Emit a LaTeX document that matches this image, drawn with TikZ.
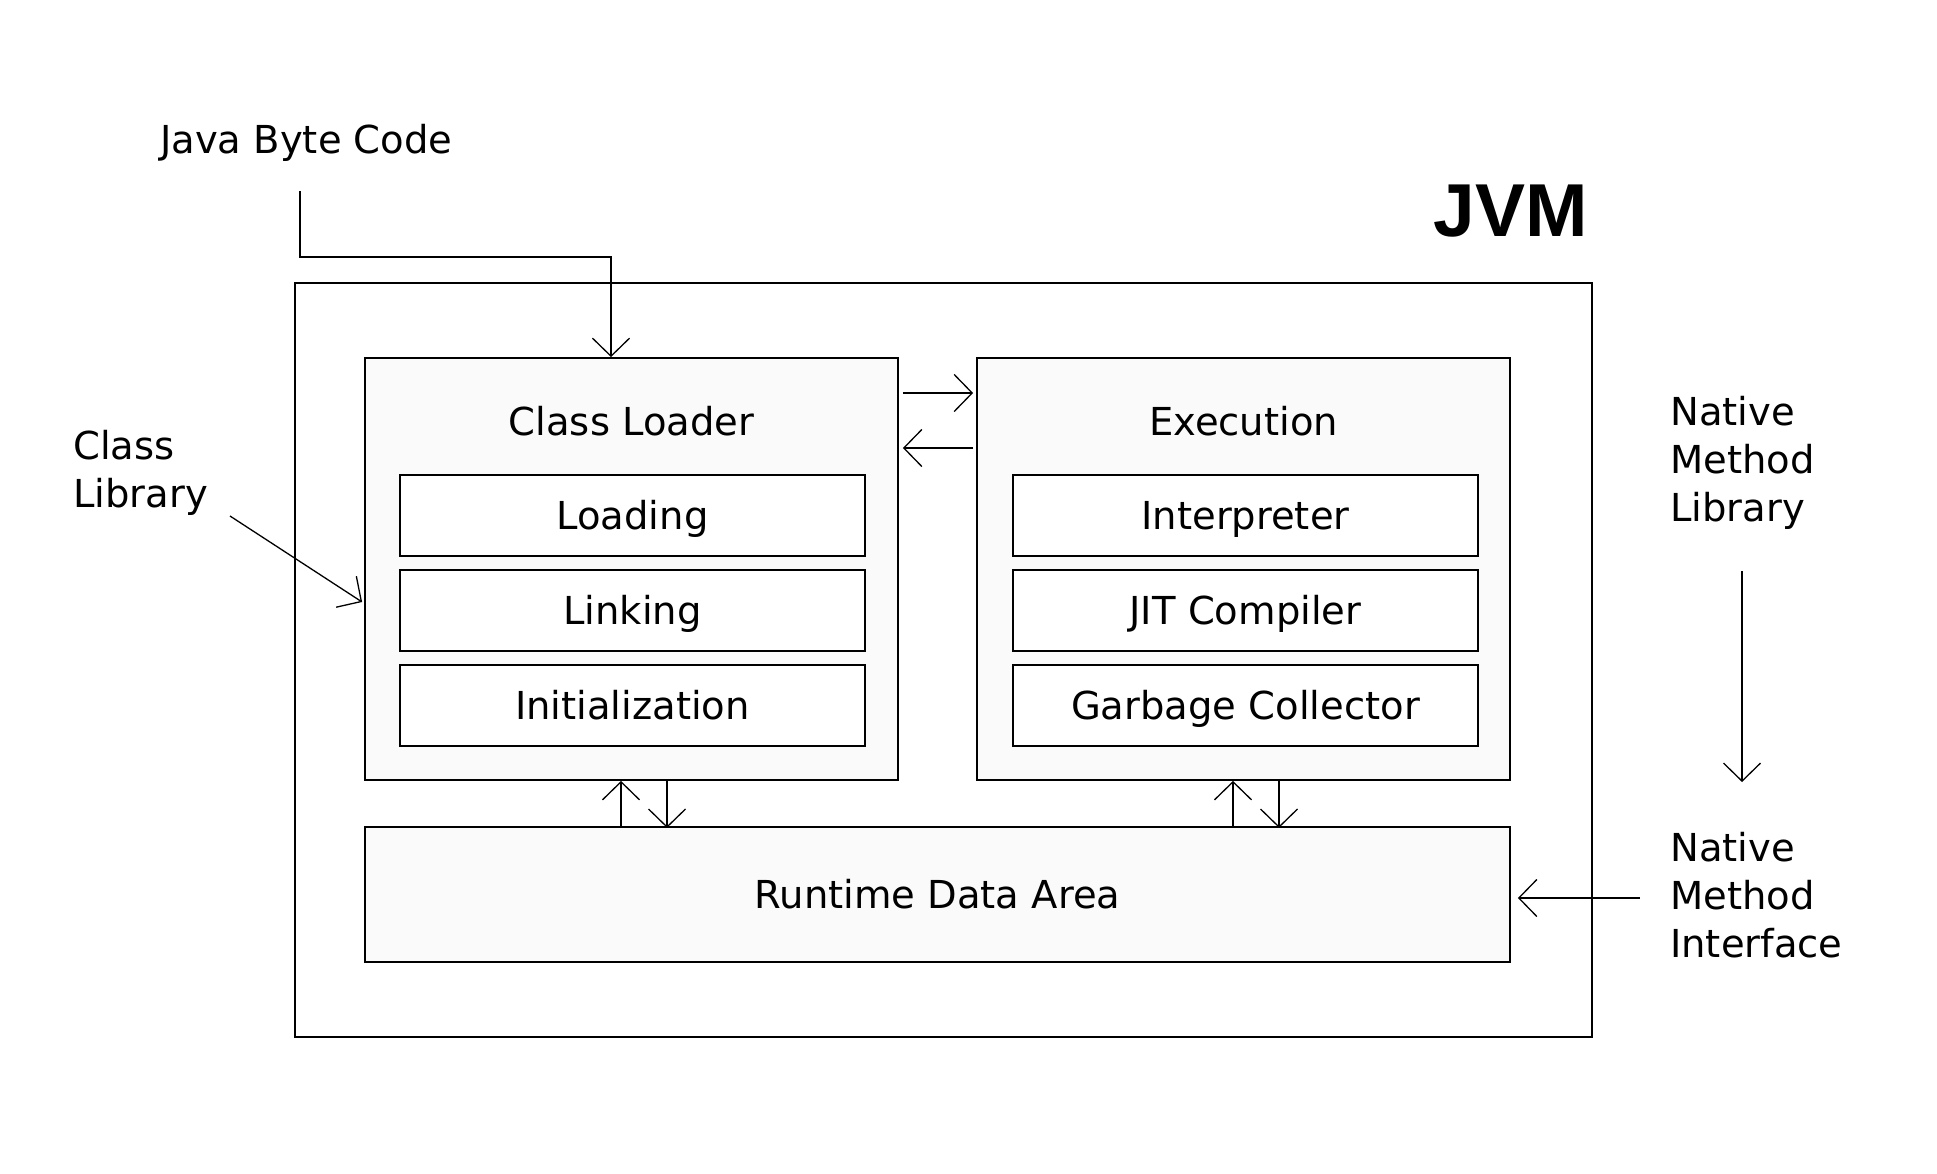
\documentclass[tikz,border=0pt]{standalone}
\usepackage{fontspec}
\setmainfont{DejaVu Sans}
\newfontfamily\jvmfont{Liberation Sans}
\usepackage{xcolor}
\usetikzlibrary{arrows.meta}
\definecolor{panel}{HTML}{FAFAFA}

\begin{document}
\begin{tikzpicture}[x=1pt, y=-1pt,
        every node/.style={font=\fontsize{38.5}{48}\selectfont, inner sep=0pt},
        frame/.style={draw, line width=1.8pt},
        stage/.style={frame, fill=panel, minimum width=533pt, minimum height=422pt},
        part/.style={frame, fill=white, minimum width=465pt, minimum height=81pt, text height=28pt, text depth=0pt},
        flow/.style={-{Straight Barb[length=18pt, width=37pt]}, line width=1.3pt},
        note/.style={text width=300pt, align=left, anchor=base west}]
        \useasboundingbox (0, 0) rectangle (1937, 1173);
        \fill[white] (0, 0) rectangle (1937, 1173);

        \node[frame, fill=white, minimum width=1297pt, minimum height=754pt] at (943.5, 660) (jvm) {};
        \node[anchor=base east, font=\fontsize{75}{80}\jvmfont\bfseries] at (1588, 236) (jvmtitle) {JVM};
        \node[anchor=base west] at (160, 153) (bytecode) {Java Byte Code};

        \node[stage] at (631.5, 569) (loader) {};
        \node[anchor=base] at (631.5, 435) (loadertitle) {Class Loader};
        \node[part] at (632.5, 515.5) (loading) {Loading};
        \node[part] at (632.5, 610.5) (linking) {Linking};
        \node[part] at (632.5, 705.5) (init) {Initialization};

        \node[stage] at (1243.5, 569) (exec) {};
        \node[anchor=base] at (1243.5, 435) (exectitle) {Execution};
        \node[part] at (1245.5, 515.5) (interp) {Interpreter};
        \node[part] at (1245.5, 610.5) (jit) {JIT Compiler};
        \node[part] at (1245.5, 705.5) (gc) {Garbage Collector};

        \node[frame, fill=panel, minimum width=1145pt, minimum height=135pt, text height=28pt, text depth=0pt] at (937.5, 894.5) (rda) {Runtime Data Area};

        \node[note] at (73, 459) (classlib) {Class\\Library};
        \node[note] at (1670, 425) (nml) {Native\\Method\\Library};
        \node[note] at (1670, 861) (nmi) {Native\\Method\\Interface};

        \coordinate (bytecodeout) at (300, 191);
        \coordinate (classlibout) at (230, 516);
        \coordinate (nmlout) at (1742, 571);
        \coordinate (nmlin) at (1742, 782);
        \coordinate (nmiout) at (1640, 898);

        \draw[flow] (bytecodeout) |- (611, 257) -- ([xshift=-20.5pt]loader.north);
        \draw[flow] (classlibout) -- ([xshift=-2pt, yshift=-33pt]loader.west);
        \draw[flow] ([xshift=4pt, yshift=176pt]loader.east) -- ([xshift=-3pt, yshift=176pt]exec.west);
        \draw[flow] ([xshift=-3pt, yshift=121pt]exec.west) -- ([xshift=4pt, yshift=121pt]loader.east);
        \draw[flow] ([xshift=-10.5pt, yshift=-47pt]loader.south) -- ([xshift=-10.5pt]loader.south);
        \draw[flow] ([xshift=35.5pt]loader.south) -- ([xshift=35.5pt, yshift=-47pt]loader.south);
        \draw[flow] ([xshift=-10.5pt, yshift=-47pt]exec.south) -- ([xshift=-10.5pt]exec.south);
        \draw[flow] ([xshift=35.5pt]exec.south) -- ([xshift=35.5pt, yshift=-47pt]exec.south);
        \draw[flow] (nmlout) -- (nmlin);
        \draw[flow] (nmiout) -- ([xshift=7pt, yshift=-3.5pt]rda.east);
    \end{tikzpicture}
\end{document}
